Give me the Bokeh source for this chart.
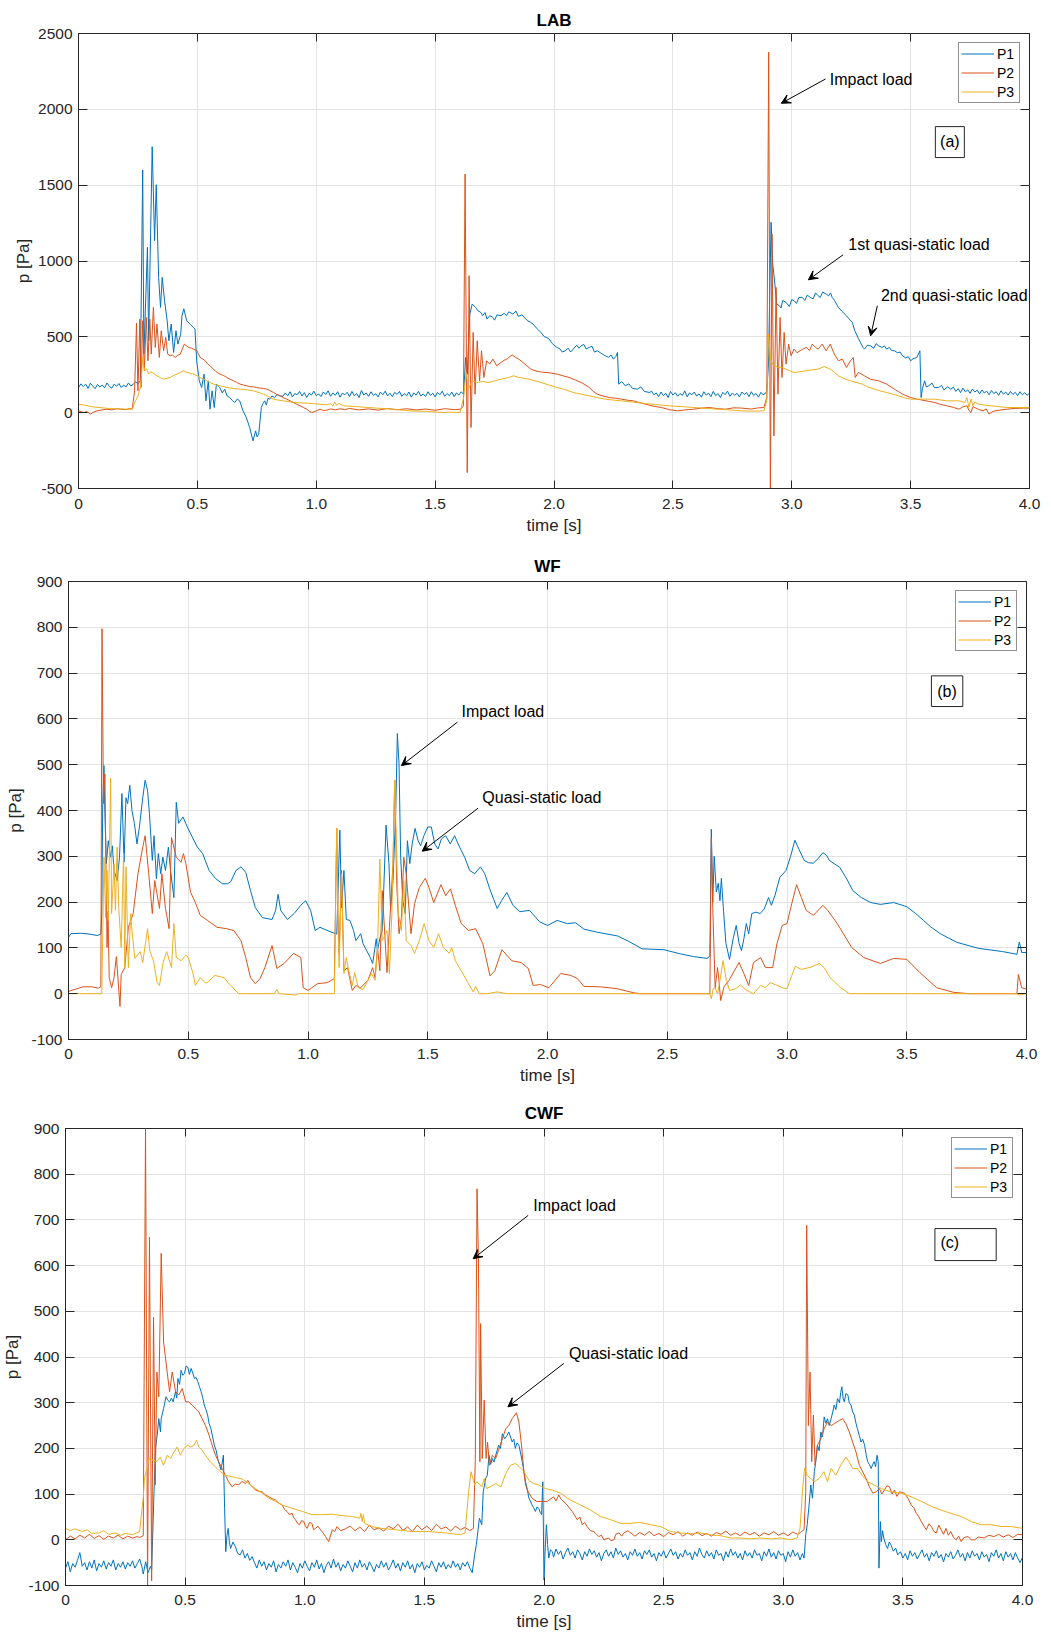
from bokeh.plotting import figure
from bokeh.models import (Range1d, FixedTicker, LinearAxis, Label, Arrow, VeeHead,
                          BoxAnnotation, Legend, LegendItem, NumeralTickFormatter)
from bokeh.embed import file_html
from bokeh.resources import INLINE

# ---------------- data (time [s], pressure [Pa]) ----------------
X_TICKS = [0, 0.5, 1.0, 1.5, 2.0, 2.5, 3.0, 3.5, 4.0]
LAB_Y_TICKS = [-500, 0, 500, 1000, 1500, 2000, 2500]
WF_Y_TICKS = [-100, 0, 100, 200, 300, 400, 500, 600, 700, 800, 900]
CWF_Y_TICKS = [-100, 0, 100, 200, 300, 400, 500, 600, 700, 800, 900]
SERIES_NAMES = ["P1", "P2", "P3"]

LAB_P1 = [
    (0.00,165),(0.01,190),(0.02,172),(0.03,188),(0.04,160),(0.05,194),(0.06,176),(0.07,158),(0.08,186),(0.09,170),
    (0.10,182),(0.11,164),(0.12,196),(0.13,172),(0.14,162),(0.15,188),(0.16,174),(0.17,192),(0.18,166),(0.19,182),
    (0.20,170),(0.21,196),(0.22,176),(0.23,186),(0.24,204),(0.25,190),
    (0.26,210),(0.27,1600),(0.275,388),(0.29,1090),(0.295,474),(0.31,1754),(0.32,1134),(0.327,1503),(0.337,892),
    (0.345,694),(0.352,892),(0.362,738),(0.373,606),(0.38,474),(0.39,584),(0.40,397),(0.41,540),(0.418,452),
    (0.43,518),(0.435,637),(0.443,685),(0.455,606),(0.469,584),(0.483,562),(0.49,551),(0.497,342),(0.508,210),
    (0.518,166),(0.528,254),(0.536,78),(0.546,210),(0.553,23),(0.562,144),(0.571,34),(0.58,188),(0.594,166),
    (0.605,130),(0.615,155),(0.625,110),(0.636,100),(0.647,80),(0.657,67),(0.668,90),(0.678,78),(0.692,12),
    (0.706,-32),(0.72,-98),(0.734,-186),(0.745,-120),(0.751,-160),(0.758,-142),(0.769,34),(0.776,60),(0.783,78),
    (0.79,50),(0.797,95),(0.804,89),(0.814,110),(0.825,100),(0.835,120),(0.846,111),
    (0.86,108),(0.87,130),(0.88,112),(0.89,138),(0.90,104),(0.91,126),(0.92,118),(0.93,140),(0.94,110),(0.95,132),
    (0.96,100),(0.97,128),(0.98,116),(0.99,142),(1.00,112),(1.01,124),(1.02,106),(1.03,136),(1.04,120),(1.05,144),
    (1.06,108),(1.07,130),(1.08,114),(1.09,138),(1.10,102),(1.11,128),(1.12,118),(1.13,134),(1.14,106),(1.15,140),
    (1.16,112),(1.17,126),(1.18,100),(1.19,146),(1.20,116),(1.21,130),(1.22,108),(1.23,138),(1.24,114),(1.25,124),
    (1.26,104),(1.27,136),(1.28,118),(1.29,142),(1.30,110),(1.31,128),(1.32,106),(1.33,134),(1.34,120),(1.35,140),
    (1.36,108),(1.37,126),(1.38,112),(1.39,136),(1.40,102),(1.41,130),(1.42,116),(1.43,140),(1.44,110),(1.45,124),
    (1.46,106),(1.47,138),(1.48,114),(1.49,128),(1.50,104),(1.51,134),(1.52,118),(1.53,142),(1.54,108),(1.55,126),
    (1.56,112),(1.57,136),(1.58,106),(1.59,130),(1.60,116),(1.61,138),(1.62,120),
    (1.628,364),(1.635,254),(1.646,650),(1.656,716),(1.67,694),(1.68,672),(1.692,661),(1.70,640),(1.71,660),
    (1.718,617),(1.73,640),(1.743,628),(1.75,610),(1.76,645),(1.777,639),(1.79,655),(1.80,640),(1.81,665),
    (1.827,650),(1.84,670),(1.85,635),(1.865,645),(1.878,623),(1.89,605),(1.90,598),(1.912,584),(1.925,560),
    (1.935,545),(1.945,529),(1.96,500),(1.97,495),(1.98,485),(1.99,460),(2.0,445),(2.013,430),(2.025,420),
    (2.035,400),(2.047,408),(2.06,425),(2.07,400),(2.081,419),(2.095,445),(2.105,425),(2.114,441),(2.125,450),
    (2.135,420),(2.148,430),(2.16,438),(2.17,400),(2.182,408),(2.195,395),(2.205,385),(2.216,375),(2.23,365),
    (2.24,380),(2.25,353),(2.26,370),(2.267,397),(2.272,188),(2.285,205),(2.3,177),(2.315,190),(2.33,160),
    (2.351,155),(2.365,170),(2.38,140),(2.402,133),
    (2.41,142),(2.42,118),(2.43,130),(2.44,106),(2.45,136),(2.46,112),(2.47,128),(2.48,100),(2.49,140),(2.50,116),
    (2.51,132),(2.52,108),(2.53,126),(2.54,114),(2.55,144),(2.56,104),(2.57,130),(2.58,118),(2.59,136),(2.60,110),
    (2.61,124),(2.62,102),(2.63,138),(2.64,116),(2.65,128),(2.66,106),(2.67,140),(2.68,112),(2.69,126),(2.70,100),
    (2.71,134),(2.72,118),(2.73,142),(2.74,108),(2.75,130),(2.76,114),(2.77,128),(2.78,104),(2.79,136),(2.80,120),
    (2.81,132),(2.82,106),(2.83,138),(2.84,112),(2.85,126),(2.86,102),(2.87,134),(2.88,118),(2.89,128),
    (2.895,140),(2.902,320),(2.913,1255),(2.92,980),(2.929,848),(2.937,716),(2.948,705),(2.955,690),(2.962,740),
    (2.976,727),(2.99,700),(3.0,745),(3.01,738),(3.02,720),(3.03,760),(3.044,760),(3.055,740),(3.065,775),
    (3.078,760),(3.09,750),(3.1,790),(3.111,771),(3.12,760),(3.13,795),(3.145,782),(3.155,770),(3.163,790),
    (3.17,760),(3.18,740),(3.196,694),(3.21,670),(3.23,639),(3.24,620),(3.255,595),(3.265,540),(3.272,518),
    (3.28,490),(3.289,463),(3.3,430),(3.306,419),(3.318,445),(3.331,441),(3.345,425),(3.355,455),(3.365,441),
    (3.38,430),(3.39,440),(3.399,419),(3.41,430),(3.42,410),(3.432,408),(3.445,395),(3.455,400),(3.466,375),
    (3.48,360),(3.49,370),(3.5,342),(3.51,355),(3.526,364),(3.539,408),(3.544,100),(3.55,160),(3.559,210),
    (3.566,170),(3.576,177),(3.59,195),(3.6,165),(3.618,166),(3.63,180),(3.64,150),(3.655,170),(3.669,155),
    (3.68,168),(3.69,140),(3.70,158),(3.71,132),(3.72,162),(3.73,138),(3.74,150),(3.75,128),(3.76,156),(3.77,136),
    (3.78,148),(3.79,124),(3.80,150),(3.81,130),(3.82,142),(3.83,118),(3.84,146),(3.85,126),(3.86,138),(3.87,114),
    (3.88,144),(3.89,122),(3.90,136),(3.91,116),(3.92,140),(3.93,120),(3.94,134),(3.95,112),(3.96,138),(3.97,118),
    (3.98,132),(3.99,114),(4.00,128),
]

LAB_P2 = [
    (0.0,12),(0.022,0),(0.035,8),(0.05,-10),(0.065,5),(0.078,12),(0.1,18),(0.12,23),(0.14,18),(0.16,26),(0.177,23),
    (0.2,20),(0.215,27),(0.226,23),(0.236,144),(0.244,590),(0.25,144),(0.258,617),(0.263,166),(0.27,606),(0.277,276),
    (0.285,628),(0.292,342),(0.3,617),(0.306,386),(0.315,694),(0.323,430),(0.33,584),(0.34,364),(0.348,540),
    (0.358,408),(0.367,496),(0.375,386),(0.386,375),(0.395,380),(0.407,364),(0.418,380),(0.428,386),(0.437,420),
    (0.445,452),(0.455,440),(0.463,430),(0.475,425),(0.484,419),(0.498,408),(0.512,364),(0.522,355),(0.533,342),
    (0.544,320),(0.554,309),(0.565,290),(0.575,276),(0.586,262),(0.596,254),(0.61,245),(0.624,232),(0.638,220),
    (0.652,210),(0.665,200),(0.68,188),(0.695,182),(0.708,177),(0.72,172),(0.736,170),(0.75,166),(0.764,162),
    (0.778,160),(0.792,155),(0.806,145),(0.82,133),(0.834,120),(0.848,111),(0.862,98),(0.876,89),(0.89,78),
    (0.904,67),(0.918,55),(0.932,45),(0.946,34),(0.96,23),(0.97,10),(0.981,1),(0.995,8),(1.016,23),(1.03,14),
    (1.044,16),(1.06,25),(1.08,18),(1.1,26),(1.12,20),(1.14,28),(1.18,18),(1.22,25),(1.26,17),(1.30,27),(1.34,19),
    (1.38,26),(1.42,18),(1.46,24),(1.50,16),(1.54,26),(1.58,20),(1.608,23),
    (1.619,45),(1.626,1574),(1.635,-395),(1.643,903),(1.651,-98),(1.66,529),(1.668,122),(1.677,474),(1.687,210),
    (1.695,408),(1.705,232),(1.717,342),(1.729,320),(1.743,353),(1.759,309),(1.777,331),(1.79,345),(1.802,353),
    (1.815,370),(1.824,381),(1.838,365),(1.852,353),(1.87,330),(1.886,309),(1.90,290),(1.92,276),(1.94,270),
    (1.962,265),(1.985,262),(2.013,254),(2.04,242),(2.064,232),(2.09,215),(2.114,199),(2.13,185),(2.148,166),
    (2.165,140),(2.182,122),(2.21,108),(2.233,100),(2.26,95),(2.284,89),(2.31,82),(2.334,78),(2.36,66),(2.385,56),
    (2.42,42),(2.452,34),(2.485,20),(2.52,12),(2.55,18),(2.588,23),(2.62,30),(2.655,34),(2.69,26),(2.723,23),
    (2.755,32),(2.79,30),(2.83,24),(2.86,32),(2.883,34),
    (2.895,100),(2.903,2377),(2.91,-560),(2.917,1178),(2.925,-153),(2.934,826),(2.942,122),(2.951,628),(2.959,232),
    (2.968,529),(2.976,320),(2.987,452),(2.997,375),(3.01,419),(3.022,395),(3.035,408),(3.048,420),(3.061,430),
    (3.075,410),(3.086,452),(3.1,430),(3.111,419),(3.128,452),(3.145,408),(3.162,452),(3.179,386),(3.196,342),
    (3.213,353),(3.23,298),(3.247,342),(3.259,364),(3.267,232),(3.28,265),(3.306,243),(3.331,221),(3.365,210),
    (3.399,188),(3.432,155),(3.466,122),(3.5,100),(3.525,90),(3.551,82),(3.575,75),(3.602,67),(3.625,55),
    (3.652,45),(3.68,35),(3.703,23),(3.72,38),(3.737,45),(3.745,15),(3.754,1),(3.762,40),(3.77,34),(3.787,20),
    (3.804,12),(3.818,25),(3.83,-10),(3.842,5),(3.855,12),(3.88,18),(3.906,23),(3.94,28),(3.973,30),(4.0,30),
]

LAB_P3 = [
    (0.0,56),(0.03,48),(0.06,38),(0.1,32),(0.13,27),(0.16,26),(0.2,23),(0.226,23),(0.24,78),(0.25,110),(0.26,166),
    (0.265,240),(0.27,364),(0.275,300),(0.28,276),(0.287,290),(0.295,254),(0.303,270),(0.31,265),(0.33,243),
    (0.345,230),(0.358,221),(0.372,225),(0.386,232),(0.40,245),(0.414,254),(0.428,265),(0.442,276),(0.456,265),
    (0.47,260),(0.484,254),(0.5,243),(0.512,232),(0.526,222),(0.54,210),(0.554,198),(0.568,188),(0.582,182),
    (0.596,177),(0.61,172),(0.624,166),(0.65,160),(0.68,155),(0.71,150),(0.736,144),(0.76,132),(0.778,122),
    (0.8,105),(0.82,89),(0.84,83),(0.862,78),(0.885,72),(0.904,67),(0.94,64),(0.974,62),(1.01,56),(1.044,52),
    (1.06,58),(1.07,44),(1.078,70),(1.086,48),(1.095,62),(1.114,45),(1.15,42),(1.184,38),(1.22,34),(1.254,30),
    (1.29,27),(1.325,23),(1.36,17),(1.395,12),(1.43,10),(1.465,8),(1.5,5),(1.535,1),(1.57,3),(1.605,1),
    (1.62,100),(1.63,265),(1.64,155),(1.655,210),(1.675,199),(1.7,205),(1.726,199),(1.75,210),(1.777,221),
    (1.81,232),(1.83,243),(1.852,232),(1.87,228),(1.895,221),(1.92,210),(1.945,199),(1.98,182),(2.013,166),
    (2.05,150),(2.081,133),(2.115,122),(2.148,111),(2.18,100),(2.216,89),(2.25,83),(2.284,78),(2.33,70),
    (2.385,60),(2.44,52),(2.486,45),(2.54,40),(2.588,34),(2.64,28),(2.689,23),(2.74,18),(2.79,12),(2.84,10),
    (2.883,12),(2.895,78),(2.902,518),(2.912,342),(2.925,309),(2.94,300),(2.959,298),(2.985,280),(3.01,265),
    (3.035,270),(3.061,276),(3.085,282),(3.111,287),(3.137,304),(3.162,287),(3.18,265),(3.196,243),(3.22,225),
    (3.247,210),(3.27,200),(3.297,188),(3.32,170),(3.348,155),(3.375,142),(3.399,133),(3.425,122),(3.449,111),
    (3.475,98),(3.5,89),(3.551,89),(3.602,89),(3.652,78),(3.703,78),(3.728,67),(3.737,100),(3.745,34),(3.754,89),
    (3.762,45),(3.77,70),(3.787,56),(3.81,50),(3.838,45),(3.87,40),(3.906,34),(3.95,34),(4.0,34),
]

WF_P1 = [
    (0.0,123),(0.01,131),(0.05,132),(0.09,130),(0.12,127),(0.135,130),(0.139,175),(0.143,415),(0.148,498),
    (0.152,393),(0.158,284),(0.166,334),(0.176,298),(0.183,323),(0.19,269),(0.203,247),(0.213,298),(0.223,437),
    (0.232,287),(0.24,428),(0.247,415),(0.256,455),(0.265,400),(0.275,372),(0.286,327),(0.296,364),(0.31,428),
    (0.32,466),(0.33,444),(0.338,393),(0.35,291),(0.357,345),(0.367,251),(0.375,306),(0.385,262),(0.394,298),
    (0.405,269),(0.417,320),(0.426,269),(0.44,210),(0.45,418),(0.46,372),(0.478,386),(0.496,364),(0.517,342),
    (0.538,320),(0.56,306),(0.587,269),(0.615,251),(0.643,240),(0.664,240),(0.678,245),(0.699,269),(0.72,277),
    (0.74,265),(0.76,225),(0.78,188),(0.81,166),(0.85,162),(0.865,182),(0.875,217),(0.886,182),(0.914,162),
    (0.942,175),(0.97,193),(0.99,203),(1.011,182),(1.03,138),(1.05,145),(1.08,138),(1.12,130),(1.133,357),
    (1.14,188),(1.15,269),(1.16,162),(1.175,160),(1.19,138),(1.20,116),(1.22,131),(1.23,109),(1.245,94),
    (1.26,79),(1.27,66),(1.285,120),(1.29,94),(1.30,120),(1.31,138),(1.316,225),(1.326,368),(1.338,284),
    (1.345,182),(1.355,247),(1.366,393),(1.373,568),(1.38,502),(1.387,298),(1.396,203),(1.406,175),(1.415,334),
    (1.425,284),(1.435,327),(1.447,361),(1.46,334),(1.47,323),(1.484,345),(1.5,364),(1.515,364),(1.529,327),
    (1.543,316),(1.557,338),(1.575,345),(1.594,327),(1.612,345),(1.633,320),(1.654,298),(1.675,269),(1.696,262),
    (1.72,277),(1.738,262),(1.76,227),(1.79,186),(1.808,203),(1.83,221),(1.856,193),(1.884,179),(1.925,182),
    (1.967,157),(2.0,149),(2.04,160),(2.083,153),(2.117,155),(2.152,141),(2.21,134),(2.293,126),(2.34,114),
    (2.395,98),(2.486,96),(2.555,87),(2.61,81),(2.666,77),(2.678,82),(2.684,359),(2.69,200),(2.696,300),
    (2.705,222),(2.713,241),(2.72,203),(2.726,252),(2.735,180),(2.745,110),(2.76,75),(2.775,120),(2.788,149),
    (2.80,110),(2.81,94),(2.82,120),(2.83,153),(2.84,131),(2.853,175),(2.87,178),(2.888,175),(2.905,185),
    (2.923,210),(2.935,193),(2.95,215),(2.97,254),(2.996,269),(3.015,300),(3.033,335),(3.05,315),(3.072,291),
    (3.09,286),(3.11,285),(3.13,295),(3.15,308),(3.165,302),(3.177,291),(3.2,283),(3.22,276),(3.25,250),
    (3.275,225),(3.31,210),(3.35,199),(3.39,195),(3.445,199),(3.5,190),(3.535,176),(3.57,160),(3.6,146),
    (3.64,131),(3.71,112),(3.8,99),(3.9,92),(3.96,86),(3.97,113),(3.98,90),(4.0,90),
]

WF_P2 = [
    (0.0,5),(0.03,10),(0.06,15),(0.1,15),(0.125,12),(0.135,15),(0.14,797),(0.146,415),(0.152,480),(0.156,298),
    (0.161,101),(0.165,180),(0.17,35),(0.18,13),(0.19,35),(0.20,81),(0.215,-28),(0.22,42),(0.235,57),(0.25,145),
    (0.27,175),(0.29,262),(0.31,320),(0.32,345),(0.335,262),(0.35,175),(0.36,247),(0.38,186),(0.39,262),
    (0.405,186),(0.42,142),(0.43,341),(0.45,298),(0.47,287),(0.48,306),(0.49,284),(0.51,221),(0.53,199),
    (0.55,171),(0.58,160),(0.62,145),(0.66,142),(0.69,138),(0.72,116),(0.74,79),(0.76,35),(0.78,22),(0.80,33),
    (0.82,57),(0.85,105),(0.87,55),(0.90,66),(0.94,88),(0.97,79),(0.98,13),(1.0,7),(1.04,22),(1.08,24),(1.11,33),
    (1.12,361),(1.125,175),(1.13,88),(1.14,269),(1.15,50),(1.165,57),(1.185,7),(1.20,18),(1.22,13),(1.25,29),
    (1.27,57),(1.28,35),(1.29,101),(1.30,50),(1.31,225),(1.33,46),(1.34,145),(1.355,284),(1.362,466),(1.37,247),
    (1.38,131),(1.39,166),(1.40,298),(1.41,262),(1.43,131),(1.445,197),(1.465,232),(1.49,252),(1.505,232),
    (1.525,199),(1.555,238),(1.575,214),(1.595,229),(1.615,193),(1.64,153),(1.67,138),(1.70,142),(1.73,109),
    (1.76,39),(1.78,50),(1.81,96),(1.85,72),(1.89,68),(1.92,55),(1.94,18),(1.97,20),(2.006,13),(2.055,44),
    (2.097,40),(2.125,33),(2.152,16),(2.222,15),(2.29,11),(2.36,2),(2.39,0),(2.5,0),(2.6,0),(2.678,0),
    (2.684,341),(2.69,188),(2.70,13),(2.71,57),(2.716,29),(2.723,-15),(2.737,15),(2.758,29),(2.78,50),(2.80,68),
    (2.82,44),(2.84,18),(2.86,68),(2.89,79),(2.91,57),(2.94,57),(2.958,109),(2.98,149),(3.0,153),(3.02,197),
    (3.04,238),(3.06,210),(3.08,182),(3.11,171),(3.15,193),(3.17,182),(3.21,153),(3.27,101),(3.32,79),(3.39,66),
    (3.445,77),(3.50,75),(3.555,46),(3.625,13),(3.695,3),(3.76,0),(3.9,0),(3.96,0),(3.966,42),(3.98,13),(4.0,10),
]

WF_P3 = [
    (0.0,0),(0.139,0),(0.148,298),(0.155,166),(0.161,269),(0.166,160),(0.176,471),(0.18,175),(0.19,284),
    (0.196,182),(0.203,320),(0.21,186),(0.22,101),(0.23,306),(0.235,57),(0.24,277),(0.25,57),(0.26,175),
    (0.265,138),(0.277,77),(0.30,92),(0.31,68),(0.33,142),(0.34,92),(0.355,72),(0.37,24),(0.38,18),(0.395,68),
    (0.41,92),(0.43,57),(0.44,153),(0.45,79),(0.47,72),(0.49,84),(0.50,79),(0.52,44),(0.53,18),(0.55,35),
    (0.57,24),(0.58,24),(0.61,40),(0.65,35),(0.67,22),(0.71,0),(0.86,0),(0.87,9),(0.88,0),(0.95,-3),(0.96,0),
    (1.11,0),(1.12,361),(1.125,153),(1.13,57),(1.14,262),(1.15,44),(1.16,79),(1.17,50),(1.185,18),(1.195,46),
    (1.21,13),(1.23,9),(1.25,29),(1.265,44),(1.28,29),(1.29,94),(1.30,294),(1.31,116),(1.33,138),(1.34,44),
    (1.35,175),(1.355,284),(1.362,466),(1.37,313),(1.377,175),(1.39,138),(1.40,247),(1.41,116),(1.43,105),
    (1.445,88),(1.465,116),(1.485,153),(1.505,116),(1.525,101),(1.545,131),(1.565,101),(1.59,88),(1.60,101),
    (1.615,72),(1.64,50),(1.67,22),(1.69,4),(1.70,16),(1.715,0),(1.75,0),(1.79,4),(1.83,0),(2.678,0),
    (2.684,-11),(2.692,11),(2.70,13),(2.71,0),(2.72,29),(2.733,72),(2.747,29),(2.76,7),(2.785,11),(2.806,19),
    (2.826,9),(2.86,0),(2.89,18),(2.91,13),(2.93,24),(2.955,19),(2.98,13),(3.0,11),(3.02,40),(3.035,60),
    (3.06,53),(3.10,58),(3.135,66),(3.155,57),(3.18,35),(3.22,15),(3.26,0),(3.96,0),(3.97,-3),(4.0,0),
]

CWF_P1 = [
    (0.00,-62),(0.01,-48),(0.02,-70),(0.03,-52),(0.04,-60),(0.05,-45),(0.06,-28),(0.07,-58),(0.08,-50),(0.09,-66),
    (0.10,-48),(0.11,-62),(0.12,-44),(0.13,-68),(0.14,-52),(0.15,-60),(0.16,-46),(0.17,-64),(0.18,-50),(0.19,-58),
    (0.20,-44),(0.21,-66),(0.22,-52),(0.23,-60),(0.24,-48),(0.25,-64),(0.26,-50),(0.27,-58),(0.28,-46),(0.29,-62),
    (0.30,-52),(0.31,-42),(0.32,-60),(0.325,-75),(0.335,-48),(0.345,-72),(0.355,-58),(0.36,-66),
    (0.37,105),(0.376,200),(0.383,228),(0.39,265),(0.397,236),(0.40,265),(0.41,287),(0.42,313),(0.428,305),
    (0.435,302),(0.443,310),(0.45,302),(0.46,324),(0.465,310),(0.47,353),(0.477,340),(0.483,371),(0.49,360),
    (0.497,364),(0.504,380),(0.511,378),(0.518,362),(0.525,375),(0.532,365),(0.539,353),(0.546,355),(0.553,346),
    (0.56,335),(0.567,324),(0.574,310),(0.58,295),(0.587,285),(0.594,273),(0.6,255),(0.608,243),(0.615,225),
    (0.622,207),(0.63,195),(0.636,178),(0.643,165),(0.65,153),(0.66,185),(0.665,69),(0.67,-26),(0.675,10),
    (0.68,25),(0.685,-5),(0.69,-19),(0.7,-5),(0.71,-15),(0.72,-30),(0.73,-33),(0.74,-22),(0.75,-40),(0.76,-30),
    (0.77,-45),(0.78,-37),
    (0.79,-50),(0.80,-62),(0.81,-44),(0.82,-58),(0.83,-48),(0.84,-66),(0.85,-52),(0.86,-60),(0.87,-46),(0.88,-70),
    (0.89,-54),(0.90,-62),(0.91,-48),(0.92,-58),(0.93,-44),(0.94,-66),(0.95,-50),(0.96,-60),(0.97,-72),(0.98,-52),
    (0.99,-62),(1.00,-46),(1.01,-58),(1.02,-68),(1.03,-50),(1.04,-60),(1.05,-44),(1.06,-64),(1.07,-52),(1.08,-72),
    (1.09,-56),(1.10,-48),(1.11,-62),(1.12,-42),(1.13,-60),(1.14,-50),(1.15,-68),(1.16,-54),(1.17,-62),(1.18,-46),
    (1.19,-58),(1.20,-70),(1.21,-50),(1.22,-62),(1.23,-44),(1.24,-60),(1.25,-52),(1.26,-66),(1.27,-48),(1.28,-58),
    (1.29,-70),(1.30,-54),(1.31,-62),(1.32,-46),(1.33,-60),(1.34,-50),(1.35,-66),(1.36,-56),(1.37,-44),(1.38,-62),
    (1.39,-52),(1.40,-68),(1.41,-50),(1.42,-60),(1.43,-46),(1.44,-64),(1.45,-54),(1.46,-72),(1.47,-52),(1.48,-60),
    (1.49,-48),(1.50,-66),(1.51,-56),(1.52,-62),(1.53,-46),(1.54,-58),(1.55,-70),(1.56,-50),(1.57,-60),(1.58,-48),
    (1.59,-64),(1.60,-54),(1.61,-62),(1.62,-46),(1.63,-60),(1.64,-52),(1.65,-66),(1.66,-50),(1.67,-58),(1.68,-48),
    (1.69,-62),(1.70,-72),
    (1.71,-33),(1.717,-11),(1.73,47),(1.74,33),(1.746,105),(1.756,134),(1.763,141),(1.77,185),(1.777,165),
    (1.784,178),(1.791,170),(1.798,185),(1.804,195),(1.81,207),(1.818,200),(1.826,232),(1.836,221),(1.845,228),
    (1.853,236),(1.86,225),(1.867,214),(1.874,220),(1.88,200),(1.887,212),(1.895,207),(1.902,190),(1.909,171),
    (1.916,150),(1.923,127),(1.93,110),(1.937,91),(1.943,85),(1.95,76),(1.957,70),(1.964,62),(1.971,72),
    (1.978,69),(1.984,60),(1.99,55),(1.995,127),(2.0,-88),(2.005,-20),(2.01,33),(2.015,-10),(2.02,-40),
    (2.027,-22),(2.035,-26),
    (2.04,-38),(2.05,-20),(2.06,-32),(2.07,-24),(2.08,-42),(2.09,-28),(2.10,-18),(2.11,-34),(2.12,-26),(2.13,-40),
    (2.14,-22),(2.15,-30),(2.16,-44),(2.17,-26),(2.18,-36),(2.19,-20),(2.20,-32),(2.21,-24),(2.22,-38),(2.23,-28),
    (2.24,-46),(2.25,-30),(2.26,-22),(2.27,-36),(2.28,-26),(2.29,-40),(2.30,-18),(2.31,-32),(2.32,-24),(2.33,-38),
    (2.34,-30),(2.35,-44),(2.36,-26),(2.37,-34),(2.38,-20),(2.39,-36),(2.40,-28),(2.41,-42),(2.42,-24),(2.43,-32),
    (2.44,-22),(2.45,-38),(2.46,-30),(2.47,-46),(2.48,-28),(2.49,-36),(2.50,-24),(2.51,-40),(2.52,-30),(2.53,-20),
    (2.54,-34),(2.55,-26),(2.56,-42),(2.57,-30),(2.58,-38),(2.59,-22),(2.60,-34),(2.61,-28),(2.62,-44),(2.63,-26),
    (2.64,-36),(2.65,-18),(2.66,-32),(2.67,-40),(2.68,-24),(2.69,-36),(2.70,-28),(2.71,-42),(2.72,-22),(2.73,-34),
    (2.74,-30),(2.75,-46),(2.76,-26),(2.77,-38),(2.78,-20),(2.79,-34),(2.80,-26),(2.81,-40),(2.82,-30),(2.83,-44),
    (2.84,-24),(2.85,-36),(2.86,-28),(2.87,-40),(2.88,-22),(2.89,-34),(2.90,-30),(2.91,-46),(2.92,-26),(2.93,-36),
    (2.94,-20),(2.95,-38),(2.96,-28),(2.97,-42),(2.98,-24),(2.99,-34),(3.00,-30),(3.01,-48),(3.02,-26),(3.03,-38),
    (3.04,-22),(3.05,-36),(3.06,-28),(3.07,-44),(3.08,-30),
    (3.087,-40),(3.094,11),(3.1,33),(3.108,76),(3.115,120),(3.122,91),(3.13,149),(3.137,175),(3.143,207),
    (3.15,195),(3.157,236),(3.164,225),(3.171,269),(3.178,255),(3.185,265),(3.192,250),(3.2,265),(3.207,280),
    (3.213,295),(3.22,285),(3.227,309),(3.235,300),(3.24,322),(3.245,335),(3.25,310),(3.255,302),(3.262,320),
    (3.27,317),(3.276,300),(3.283,295),(3.29,280),(3.297,273),(3.304,255),(3.31,243),(3.318,228),(3.325,214),
    (3.332,220),(3.34,207),(3.347,185),(3.353,171),(3.36,165),(3.367,156),(3.374,165),(3.38,171),(3.386,160),
    (3.392,185),(3.397,171),(3.4,-62),(3.406,40),(3.41,-4),(3.415,20),(3.42,4),(3.428,-10),(3.436,-19),
    (3.443,-5),(3.45,-11),(3.46,-25),(3.47,-18),(3.478,-33),
    (3.49,-26),(3.50,-40),(3.51,-30),(3.52,-44),(3.53,-24),(3.54,-36),(3.55,-28),(3.56,-42),(3.57,-32),(3.58,-22),
    (3.59,-38),(3.60,-30),(3.61,-46),(3.62,-28),(3.63,-36),(3.64,-24),(3.65,-40),(3.66,-32),(3.67,-48),(3.68,-30),
    (3.69,-38),(3.70,-26),(3.71,-42),(3.72,-34),(3.73,-22),(3.74,-38),(3.75,-30),(3.76,-46),(3.77,-28),(3.78,-40),
    (3.79,-24),(3.80,-36),(3.81,-30),(3.82,-44),(3.83,-26),(3.84,-38),(3.85,-32),(3.86,-48),(3.87,-28),(3.88,-36),
    (3.89,-22),(3.90,-40),(3.91,-30),(3.92,-46),(3.93,-26),(3.94,-38),(3.95,-30),(3.96,-44),(3.97,-28),(3.98,-40),
    (3.99,-50),(4.00,-38),
]

CWF_P2 = [
    (0.00,0),(0.02,8),(0.04,2),(0.06,10),(0.08,4),(0.10,12),(0.12,3),(0.14,9),(0.16,1),(0.18,8),(0.20,4),(0.22,10),
    (0.24,2),(0.26,8),(0.28,4),(0.30,7),(0.31,5),(0.325,9),(0.3345,900),(0.343,-100),(0.351,662),(0.36,-90),
    (0.368,487),(0.375,120),(0.382,367),(0.39,313),(0.4,627),(0.41,433),(0.425,367),(0.435,324),(0.446,367),
    (0.46,324),(0.474,317),(0.488,331),(0.502,302),(0.515,302),(0.536,291),(0.557,280),(0.571,265),(0.585,250),
    (0.6,229),(0.613,207),(0.627,185),(0.64,171),(0.655,156),(0.668,141),(0.682,127),(0.696,116),(0.71,122),
    (0.724,120),(0.738,128),(0.752,123),(0.762,130),(0.773,120),(0.784,115),(0.794,109),(0.808,106),(0.822,105),
    (0.836,98),(0.85,94),(0.864,90),(0.878,87),(0.892,80),(0.906,76),(0.916,66),(0.926,62),(0.936,55),(0.947,58),
    (0.954,48),(0.961,44),(0.97,36),(0.978,33),(0.987,42),(0.996,40),(1.003,30),(1.01,25),(1.02,38),(1.03,36),
    (1.037,22),(1.045,25),(1.055,30),(1.066,22),(1.077,15),(1.087,7),(1.1,-4),(1.108,10),(1.115,22),(1.125,18),
    (1.135,29),(1.15,20),(1.17,24),
    (1.19,30),(1.21,20),(1.23,28),(1.25,18),(1.27,32),(1.29,22),(1.31,26),(1.33,19),(1.35,30),(1.37,24),(1.39,34),
    (1.41,21),(1.43,28),(1.45,18),(1.47,32),(1.49,22),(1.51,30),(1.53,20),(1.55,34),(1.57,24),(1.59,28),(1.61,19),
    (1.63,30),(1.65,22),(1.67,27),(1.69,20),(1.705,25),
    (1.713,178),(1.72,768),(1.726,615),(1.732,171),(1.735,473),(1.742,178),(1.75,306),(1.758,178),(1.764,214),
    (1.772,163),(1.784,185),(1.798,178),(1.81,196),(1.826,221),(1.84,243),(1.853,250),(1.867,265),(1.885,278),
    (1.895,258),(1.906,207),(1.916,149),(1.923,120),(1.934,105),(1.95,91),(1.97,84),(1.99,84),(2.013,84),
    (2.04,94),(2.05,85),(2.062,98),(2.07,90),(2.076,87),(2.097,76),(2.118,62),(2.139,44),(2.15,50),(2.16,33),
    (2.17,38),(2.18,29),(2.194,20),(2.208,18),(2.22,12),(2.229,7),(2.24,10),(2.25,0),(2.27,4),(2.28,-2),
    (2.292,0),(2.3,12),(2.313,15),(2.325,8),(2.334,15),(2.35,20),(2.36,16),
    (2.38,8),(2.40,16),(2.42,10),(2.44,18),(2.46,9),(2.48,14),(2.50,7),(2.52,16),(2.54,11),(2.56,18),(2.58,8),
    (2.60,15),(2.62,10),(2.64,17),(2.66,9),(2.68,14),(2.70,8),(2.72,16),(2.74,12),(2.76,19),(2.78,10),(2.80,15),
    (2.82,9),(2.84,17),(2.86,11),(2.88,16),(2.90,8),(2.92,15),(2.94,11),(2.96,18),(2.98,10),(3.00,15),(3.02,9),
    (3.04,17),(3.06,12),(3.072,16),
    (3.087,22),(3.094,105),(3.098,688),(3.105,250),(3.112,367),(3.119,171),(3.126,273),(3.133,163),(3.143,207),
    (3.157,221),(3.171,243),(3.185,258),(3.2,250),(3.213,254),(3.234,261),(3.248,265),(3.262,254),(3.276,236),
    (3.29,214),(3.304,192),(3.318,163),(3.332,149),(3.346,134),(3.36,116),(3.374,102),(3.388,105),(3.402,112),
    (3.412,100),(3.423,109),(3.433,118),(3.444,116),(3.455,100),(3.465,109),(3.475,95),(3.486,105),(3.507,102),
    (3.521,91),(3.535,76),(3.546,70),(3.556,58),(3.567,50),(3.577,40),(3.588,30),(3.598,22),(3.609,35),
    (3.619,29),(3.63,18),(3.64,15),(3.65,32),(3.66,22),(3.67,12),(3.68,25),(3.69,10),(3.70,18),(3.712,5),
    (3.723,0),(3.733,8),(3.744,-4),(3.755,5),(3.772,7),(3.786,0),(3.8,0),(3.815,6),(3.84,4),(3.86,10),(3.88,7),
    (3.9,12),(3.92,6),(3.94,11),(3.96,5),(3.98,12),(4.0,11),
]

CWF_P3 = [
    (0.0,25),(0.02,20),(0.04,24),(0.07,18),(0.09,22),(0.11,14),(0.14,15),(0.16,20),(0.18,12),(0.21,15),(0.23,10),
    (0.25,14),(0.28,11),(0.31,18),(0.32,69),(0.325,91),(0.33,134),(0.343,163),(0.35,178),(0.368,174),(0.382,171),
    (0.396,181),(0.41,163),(0.425,185),(0.44,178),(0.453,192),(0.467,203),(0.48,185),(0.495,200),(0.51,207),
    (0.523,203),(0.537,207),(0.548,218),(0.557,203),(0.571,196),(0.585,185),(0.6,174),(0.62,163),(0.64,152),
    (0.668,141),(0.696,138),(0.738,133),(0.766,123),(0.794,112),(0.822,102),(0.85,91),(0.878,84),(0.906,76),
    (0.947,69),(0.99,62),(1.03,55),(1.07,55),(1.115,56),(1.157,53),(1.2,51),(1.23,47),(1.235,58),(1.24,40),
    (1.245,55),(1.25,36),(1.28,29),(1.32,25),(1.38,22),(1.45,18),(1.52,18),(1.59,15),(1.65,11),(1.67,15),
    (1.685,105),(1.695,149),(1.71,120),(1.72,127),(1.74,116),(1.75,134),(1.76,112),(1.775,116),(1.798,123),
    (1.82,116),(1.84,145),(1.86,163),(1.88,167),(1.897,160),(1.916,149),(1.937,130),(1.957,123),(1.978,120),
    (2.006,112),(2.035,109),(2.069,102),(2.11,87),(2.153,76),(2.195,65),(2.236,51),(2.278,44),(2.32,36),
    (2.36,36),(2.4,38),(2.445,33),(2.487,29),(2.53,18),(2.57,15),(2.612,13),(2.654,15),(2.696,11),(2.738,9),
    (2.78,4),(2.82,4),(2.863,2),(2.905,4),(2.947,2),(2.989,4),(3.03,0),(3.058,4),(3.07,25),(3.075,62),(3.08,105),
    (3.089,156),(3.1,141),(3.115,134),(3.129,127),(3.15,134),(3.17,149),(3.185,127),(3.2,156),(3.22,141),
    (3.24,163),(3.262,181),(3.276,170),(3.29,156),(3.31,156),(3.33,141),(3.353,127),(3.38,120),(3.41,112),
    (3.45,105),(3.493,102),(3.535,94),(3.577,84),(3.62,73),(3.66,65),(3.70,58),(3.744,51),(3.786,40),(3.828,33),
    (3.87,33),(3.91,29),(3.953,29),(4.0,25),
]

# ---------------- styling ----------------
COLORS = ["#0072BD", "#D95319", "#EDB120"]
FONT = "Liberation Sans"
DARK = "#262626"
GRID = "#e3e3e3"


def make_panel(title, series, y_lo, y_hi, yticks, fw, fh, bl, br, bt, bb, title_standoff,
               x_lab_standoff, x_axlab_standoff, y_axlab_standoff):
    p = figure(frame_width=fw, frame_height=fh,
               x_range=Range1d(0, 4), y_range=Range1d(y_lo, y_hi),
               output_backend="svg", toolbar_location=None,
               min_border_left=bl, min_border_right=br, min_border_top=bt, min_border_bottom=bb,
               title=title)
    p.background_fill_color = "white"
    p.border_fill_color = "white"
    p.outline_line_color = DARK
    p.outline_line_width = 1
    p.outline_line_alpha = 1

    p.title.align = "center"
    p.title.text_font = FONT
    p.title.text_font_size = "17px"
    p.title.text_font_style = "bold"
    p.title.text_color = "black"
    p.title.standoff = title_standoff

    xa = p.xaxis[0]
    xa.ticker = FixedTicker(ticks=X_TICKS)
    xa.formatter = NumeralTickFormatter(format="0.0")
    xa.major_label_overrides = {0: "0"}
    xa.axis_label = "time [s]"
    ya = p.yaxis[0]
    ya.ticker = FixedTicker(ticks=yticks)
    ya.major_label_overrides = {t: "-" + str(abs(t)) for t in yticks if t < 0}
    ya.axis_label = "p [Pa]"
    for ax in (xa, ya):
        ax.axis_label_text_font = FONT
        ax.axis_label_text_font_size = "17px"
        ax.axis_label_text_font_style = "normal"
        ax.axis_label_text_color = DARK
        ax.major_label_text_font = FONT
        ax.major_label_text_font_size = "15.5px"
        ax.major_label_text_color = DARK
        ax.axis_line_color = DARK
        ax.major_tick_line_color = DARK
        ax.major_tick_out = 0
        ax.minor_tick_in = 0
        ax.minor_tick_out = 0
    xa.major_tick_in = 8
    ya.major_tick_in = 9
    xa.major_label_standoff = x_lab_standoff
    xa.axis_label_standoff = x_axlab_standoff
    ya.major_label_standoff = 6
    ya.axis_label_standoff = y_axlab_standoff

    # tick marks on the top and right edges (box style), without labels
    ra = LinearAxis(ticker=FixedTicker(ticks=yticks), major_label_text_font_size="1px",
                    major_label_text_color=None, major_label_standoff=0,
                    major_tick_in=9, major_tick_out=0, minor_tick_in=0, minor_tick_out=0,
                    axis_line_color=None, major_tick_line_color=DARK)
    p.add_layout(ra, "right")
    ta = LinearAxis(ticker=FixedTicker(ticks=X_TICKS), major_label_text_font_size="1px",
                    major_label_text_color=None, major_label_standoff=0,
                    major_tick_in=8, major_tick_out=0, minor_tick_in=0, minor_tick_out=0,
                    axis_line_color=None, major_tick_line_color=DARK)
    p.add_layout(ta, "above")

    p.xgrid.grid_line_color = GRID
    p.ygrid.grid_line_color = GRID
    p.xgrid.grid_line_width = 1
    p.ygrid.grid_line_width = 1

    renderers = []
    for data, color in zip(series, COLORS):
        t = [d[0] for d in data]
        v = [d[1] for d in data]
        r = p.line(t, v, line_color=color, line_width=1)
        renderers.append(r)

    legend = Legend(items=[LegendItem(label=n, renderers=[r]) for n, r in zip(SERIES_NAMES, renderers)],
                    location="top_right", margin=9, padding=2, spacing=2,
                    glyph_width=33, glyph_height=17, label_height=17, label_standoff=3,
                    label_text_font=FONT, label_text_font_size="14px", label_text_color="black",
                    border_line_color=DARK, border_line_width=1, background_fill_color="white",
                    background_fill_alpha=1)
    p.add_layout(legend)
    return p


def add_note(p, text, tx, ty, x0, y0, x1, y1):
    p.add_layout(Label(x=tx, y=ty, text=text, text_font=FONT, text_font_size="16px",
                       text_color="black", text_align="left", text_baseline="middle"))
    p.add_layout(Arrow(x_start=x0, y_start=y0, x_end=x1, y_end=y1, line_color="black", line_width=1,
                       end=VeeHead(size=9, fill_color="black", line_color="black", line_width=1)))


def add_tag(p, text, left, right, bottom, top, tx, ty, align):
    p.add_layout(BoxAnnotation(left=left, right=right, bottom=bottom, top=top,
                               fill_color="white", fill_alpha=1, line_color=DARK, line_width=1,
                               line_alpha=1))
    p.add_layout(Label(x=tx, y=ty, text=text, text_font=FONT, text_font_size="16px",
                       text_color="black", text_align=align, text_baseline="middle"))


# panel (a) LAB
pa = make_panel("LAB", [LAB_P1, LAB_P2, LAB_P3], -500, 2500, LAB_Y_TICKS,
                951, 455, 78, 21, 33, 59, 7, 10, 4, 2)
add_note(pa, "Impact load", 3.16, 2200, 3.142, 2200, 2.956, 2040)
add_note(pa, "1st quasi-static load", 3.238, 1107, 3.216, 1041, 3.07, 876)
add_note(pa, "2nd quasi-static load", 3.375, 771, 3.36, 705, 3.332, 507)
add_tag(pa, "(a)", 3.604, 3.726, 1682, 1886, 3.665, 1790, "center")

# panel (b) WF
pb = make_panel("WF", [WF_P1, WF_P2, WF_P3], -100, 900, WF_Y_TICKS,
                958, 458, 68, 21, 34, 56, 12, 9, 4, 3)
add_note(pb, "Impact load", 1.641, 616, 1.624, 593, 1.390, 498)
add_note(pb, "Quasi-static load", 1.728, 429, 1.710, 405, 1.477, 311)
add_tag(pb, "(b)", 3.603, 3.734, 627, 694, 3.668, 660, "center")

# panel (c) CWF
pc = make_panel("CWF", [CWF_P1, CWF_P2, CWF_P3], -100, 900, CWF_Y_TICKS,
                957, 457, 65, 21, 33, 46, 11, 9, 4, 3)
add_note(pc, "Impact load", 1.955, 732, 1.934, 710, 1.704, 615)
add_note(pc, "Quasi-static load", 2.104, 408, 2.083, 386, 1.849, 291)
add_tag(pc, "(c)", 3.634, 3.890, 611, 681, 3.657, 651, "left")

# three independent roots, stacked on the page (keeps each panel's own frame position)
open("out.html", "w").write(file_html([pa, pb, pc], INLINE))
